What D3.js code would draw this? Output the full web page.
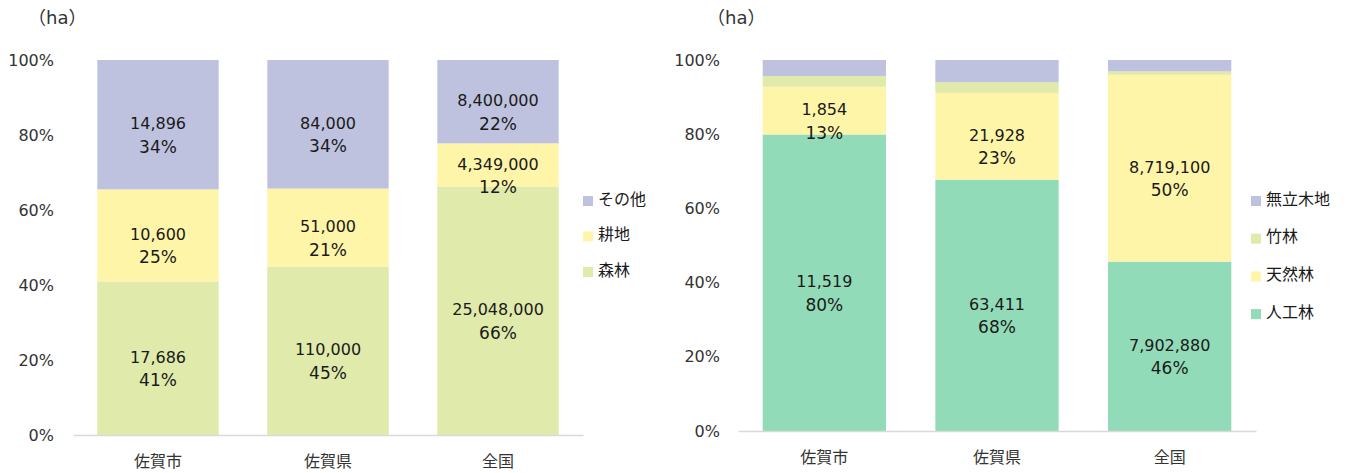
<!DOCTYPE html>
<html lang="ja">
<head>
    <meta charset="utf-8">
    <title>森林面積</title>
    <script src="https://d3js.org/d3.v7.min.js"></script>
    <style>
        body { margin: 0; background: #fff; }
        svg text { font-family: "DejaVu Sans", "Noto Sans CJK JP", sans-serif; }
    </style>
</head>
<body>
<svg id="chart" width="1347" height="473"></svg>

<script>
    // categories
    const categories = ["佐賀市", "佐賀県", "全国"];

    // left chart: land use (ha)
    const forestArea = [17686, 110000, 25048000];
    const farmArea = [10600, 51000, 4349000];
    const otherArea = [14896, 84000, 8400000];

    // right chart: forest types (ha), 竹林 / 無立木地
    const plantedForest = [11519, 63411, 7902880];
    const naturalForest = [1854, 21928, 8719100];
    const bambooForest = [420, 2700, 160000];
    const treelessLand = [620, 5600, 530000];

    const yTicks = [0, 0.2, 0.4, 0.6, 0.8, 1];

    const svg = d3.select("#chart");

    function drawChart(opt) {
        const g = svg.append("g");

        const x = d3.scaleBand()
            .domain(categories)
            .range([opt.x0, opt.x1])
            .paddingInner(0.286)
            .paddingOuter(0.143);

        const y = d3.scaleLinear()
            .domain([0, 1])
            .range([opt.y0, opt.y1]);

        const rows = categories.map((c, i) => {
            const r = { cat: c };
            opt.series.forEach(s => { r[s.name] = s.values[i]; });
            return r;
        });

        const stack = d3.stack()
            .keys(opt.series.map(s => s.name))
            .offset(d3.stackOffsetExpand);
        const stacked = stack(rows);

        // bars
        stacked.forEach((layer, li) => {
            const s = opt.series[li];
            g.selectAll(null)
                .data(layer)
                .enter()
                .append("rect")
                .attr("x", d => x(d.data.cat))
                .attr("width", x.bandwidth())
                .attr("y", d => y(d[1]))
                .attr("height", d => y(d[0]) - y(d[1]))
                .attr("fill", s.color);
        });

        // data labels
        stacked.forEach((layer, li) => {
            const s = opt.series[li];
            if (!s.label) return;
            const lbl = g.selectAll(null)
                .data(layer)
                .enter()
                .append("text")
                .attr("text-anchor", "middle")
                .attr("font-size", 16)
                .attr("fill", "#1a1a1a")
                .attr("transform", d => "translate(" + (x(d.data.cat) + x.bandwidth() / 2) + "," + y((d[0] + d[1]) / 2) + ")");
            lbl.append("tspan")
                .attr("x", 0)
                .attr("y", -1)
                .attr("dy", "0.35em")
                .text(d => d3.format(",")(d.data[s.name]));
            lbl.append("tspan")
                .attr("x", 0)
                .attr("y", 22)
                .attr("dy", "0.35em")
                .attr("font-size", 17)
                .text(d => Math.round((d[1] - d[0]) * 100) + "%");
        });

        // y axis
        const yAxis = g.append("g")
            .attr("transform", "translate(" + opt.x0 + ",0)")
            .call(d3.axisLeft(y).tickValues(yTicks).tickFormat(d3.format(".0%")).tickSize(0).tickPadding(opt.x0 - opt.yLabelX));
        yAxis.select(".domain").remove();
        yAxis.selectAll("text").attr("font-size", 16).attr("fill", "#333").attr("font-family", null);

        // x axis
        const xAxis = g.append("g")
            .attr("transform", "translate(0," + opt.y0 + ")")
            .call(d3.axisBottom(x).tickSize(0).tickSizeOuter(0).tickPadding(21));
        xAxis.select(".domain").attr("stroke", "#d9d9d9").attr("stroke-width", 1.5);
        xAxis.selectAll("text").attr("font-size", 16).attr("fill", "#333").attr("font-family", null);

        // unit
        g.append("text")
            .attr("x", opt.unitX)
            .attr("y", 18)
            .attr("dy", "0.35em")
            .attr("font-size", 18)
            .attr("fill", "#333")
            .text("（ha）");

        // legend (top to bottom = reverse stack order)
        const legendItems = opt.series.slice().reverse();
        const lg = g.selectAll(null)
            .data(legendItems)
            .enter()
            .append("g")
            .attr("transform", (d, i) => "translate(" + opt.legendX + "," + (opt.legendY + i * opt.legendStep) + ")");
        lg.append("rect")
            .attr("x", 0)
            .attr("y", -3)
            .attr("width", 10)
            .attr("height", 10)
            .attr("fill", d => d.color);
        lg.append("text")
            .attr("x", 15)
            .attr("y", 0)
            .attr("dy", "0.35em")
            .attr("font-size", 16)
            .attr("fill", "#1a1a1a")
            .text(d => d.name);
    }

    drawChart({
        x0: 73, x1: 583, y0: 435, y1: 60,
        yLabelX: 54, unitX: 28,
        legendX: 583, legendY: 199, legendStep: 35.5,
        series: [
            { name: "森林", values: forestArea, color: "#dfeaab", label: true },
            { name: "耕地", values: farmArea, color: "#fff5a9", label: true },
            { name: "その他", values: otherArea, color: "#bfc2de", label: true }
        ]
    });

    drawChart({
        x0: 738, x1: 1256, y0: 431, y1: 60,
        yLabelX: 720, unitX: 707,
        legendX: 1251, legendY: 199, legendStep: 37.7,
        series: [
            { name: "人工林", values: plantedForest, color: "#92dbb8", label: true },
            { name: "天然林", values: naturalForest, color: "#fff5a9", label: true },
            { name: "竹林", values: bambooForest, color: "#dfeaab", label: false },
            { name: "無立木地", values: treelessLand, color: "#bfc2de", label: false }
        ]
    });
</script>
</body>
</html>
